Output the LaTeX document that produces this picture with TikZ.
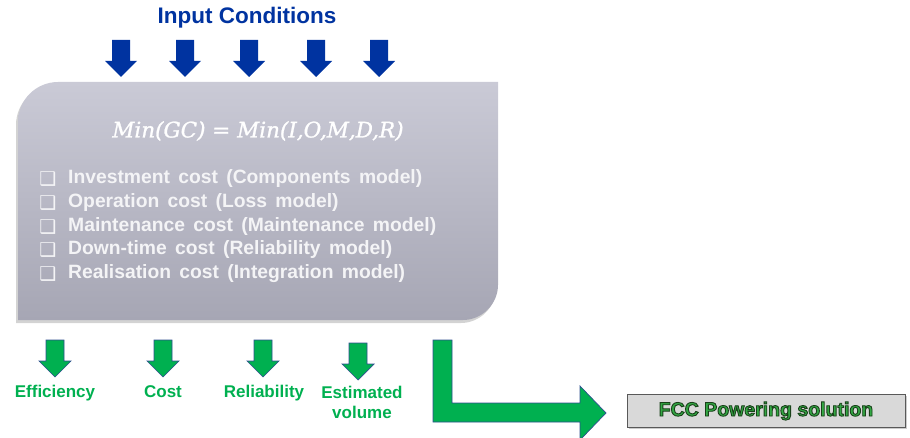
\documentclass[tikz,border=0pt]{standalone}
\usepackage{fontspec}
\setmainfont{Liberation Sans}
\newfontfamily\symfont{DejaVu Sans}
\newfontfamily\formfont[FakeBold=1.2]{DejaVu Serif}
\usetikzlibrary{shadows}
\definecolor{ublue}{HTML}{0033A0}
\definecolor{ugreen}{HTML}{00B050}
\definecolor{arrowedge}{HTML}{2F4F8F}
\definecolor{boxtop}{HTML}{CACAD6}
\definecolor{boxbot}{HTML}{A6A6B4}
\definecolor{fccgreen}{HTML}{33A844}
\definecolor{listtxt}{HTML}{F4F4F6}
\newcommand\outlinedtext[1]{\special{pdf:literal direct 0.1 0.25 0.1 RG 0.9 w 2 Tr}#1\special{pdf:literal direct 0 Tr}}
\newcommand\widespace{\spaceskip=0.43em\relax}
\newcommand\listfont{\bfseries\fontsize{19.3}{22}\selectfont\widespace}
\begin{document}
\begin{tikzpicture}[x=1pt,y=-1pt,
  bluearrow/.style={fill=ublue, draw=none},
  greenarrow/.style={fill=ugreen, draw=arrowedge, line width=0.7pt},
  downarr/.pic={\path[pic actions] (-9,0) -- (9,0) -- (9,21) -- (16,21) -- (0,37) -- (-16,21) -- (-9,21) -- cycle;},
  listitem/.style={anchor=west, text=listtxt, font=\listfont, inner sep=0pt},
  chk/.style={text=listtxt, font=\symfont\fontsize{19}{22}\selectfont, inner sep=0pt},
  outlabel/.style={text=ugreen, font=\bfseries\fontsize{17}{20}\selectfont, align=center, inner sep=0pt},
  formtxt/.style={font=\formfont\itshape\fontsize{21.5}{24}\selectfont},
  fcctext/.style={font=\bfseries\fontsize{19.5}{22}\selectfont},
]
\useasboundingbox (0,0) rectangle (910,438);

% title
\node[text=ublue, font=\bfseries\fontsize{22.5}{26}\selectfont] (title) at (247,18) {Input Conditions};

% input arrows
\foreach \x in {121,185,249,316,379}
  \pic[bluearrow] at (\x,40) {downarr};

% main box
\path[drop shadow={opacity=0.35, shadow xshift=-2pt, shadow yshift=-3pt},
      top color=boxtop, bottom color=boxbot]
  (18,320) -- (18,122) .. controls (18,100) and (36,82) .. (58,82)
  -- (498,82) -- (498,285) .. controls (498,304) and (482,320) .. (463,320) -- cycle;

% formula
\node[formtxt, text=white] (formula) at (258,131) {Min(GC) = Min(I,O,M,D,R)};

% list
\node[chk] (c1) at (48,179) {❑};
\node[chk] (c2) at (48,203) {❑};
\node[chk] (c3) at (48,227) {❑};
\node[chk] (c4) at (48,250) {❑};
\node[chk] (c5) at (48,274) {❑};
\node[listitem] (l1) at (68,179) {Investment cost (Components model)};
\node[listitem] (l2) at (68,203) {Operation cost (Loss model)};
\node[listitem] (l3) at (68,227) {Maintenance cost (Maintenance model)};
\node[listitem] (l4) at (68,250) {Down-time cost (Reliability model)};
\node[listitem] (l5) at (68,274) {Realisation cost (Integration model)};

% output arrows
\pic[greenarrow] at (55,340) {downarr};
\pic[greenarrow] at (163,340) {downarr};
\pic[greenarrow] at (263,340) {downarr};
\pic[greenarrow] at (358,343) {downarr};

\node[outlabel] (o1) at (55,393) {Efficiency};
\node[outlabel] (o2) at (163,392) {Cost};
\node[outlabel] (o3) at (264,393) {Reliability};
\node[outlabel, anchor=north] (o4) at (362,386) {Estimated\\volume};

% bent arrow
\path[greenarrow] (433,340) -- (452,340) -- (452,403) -- (580,403) -- (580,386)
  -- (606,413) -- (580,440) -- (580,422) -- (433,422) -- cycle;

% FCC box
\node[draw=black!65, fill=black!15, line width=0.8pt, minimum width=278pt, minimum height=33pt,
      drop shadow={opacity=0.4, shadow xshift=2pt, shadow yshift=-2pt}] (fcc) at (766,410.5) {};
\node[fcctext, text=fccgreen] (fcctxt) at (766,411) {\outlinedtext{FCC Powering solution}};
\end{tikzpicture}
\end{document}
